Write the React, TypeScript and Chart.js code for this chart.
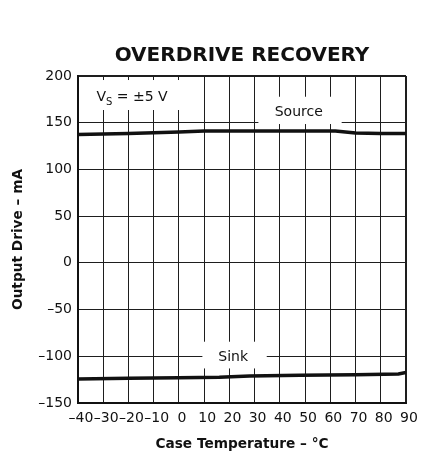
import React, { useEffect, useRef } from 'react';
import { Chart, registerables } from 'chart.js';

Chart.register(...registerables);

// ---- data ----
const sourceTemps = [-40, -20, 0, 10, 30, 50, 62, 70, 80, 90];
const sourceDrive = [137.5, 138.5, 140, 141, 141, 141, 141, 139, 138.5, 138.5];
const sinkTemps = [-40, -20, 0, 16, 28, 48, 70, 87, 90];
const sinkDrive = [-124.3, -123.5, -123, -122.5, -121.2, -120.4, -119.8, -119, -117.2];

const xTickValues = [-40, -30, -20, -10, 0, 10, 20, 30, 40, 50, 60, 70, 80, 90];
const xTickLabels = ['–40', '–30', '–20', '–10', '0', '10', '20', '30', '40', '50', '60', '70', '80', '90'];
const yTickValues = [-150, -100, -50, 0, 50, 100, 150, 200];
const yTickLabels = ['–150', '–100', '–50', '0', '50', '100', '150', '200'];

const titleText = 'OVERDRIVE RECOVERY';
const xTitle = 'Case Temperature – °C';
const yTitle = 'Output Drive – mA';

// label boxes (data coordinates) that mask the grid
const maskBoxes = [
  { x0: -39.4, x1: 8.4, y0: 163.6, y1: 195.7 },
  { x0: 31.5, x1: 64.5, y0: 148.6, y1: 177.8 },
  { x0: 9.3, x1: 34.8, y0: -113, y1: -84.4 },
];
const curveLabels = [
  { text: 'Source', x: 47.5, y: 157.2 },
  { text: 'Sink', x: 21.5, y: -105.1 },
];
const supplyLabel = { x: -32.7, y: 173.2 };

const FONT = '"DejaVu Sans", sans-serif';
const INK = '#111';
const GRID = '#1e1e1e';

const labelPlugin = {
  id: 'plotLabels',
  beforeDatasetsDraw(chart: any) {
    const { ctx, scales } = chart;
    const xs = scales.x;
    const ys = scales.y;
    ctx.save();
    ctx.fillStyle = '#fff';
    for (const b of maskBoxes) {
      const l = xs.getPixelForValue(b.x0);
      const r = xs.getPixelForValue(b.x1);
      const t = ys.getPixelForValue(b.y1);
      const bt = ys.getPixelForValue(b.y0);
      ctx.fillRect(l, t, r - l, bt - t);
    }
    ctx.fillStyle = INK;
    ctx.textBaseline = 'alphabetic';
    ctx.font = `14px ${FONT}`;
    ctx.textAlign = 'center';
    for (const c of curveLabels) {
      ctx.fillText(c.text, xs.getPixelForValue(c.x), ys.getPixelForValue(c.y));
    }
    // V_S = ±5 V
    ctx.textAlign = 'left';
    let px = xs.getPixelForValue(supplyLabel.x);
    const py = ys.getPixelForValue(supplyLabel.y);
    ctx.font = `14px ${FONT}`;
    ctx.fillText('V', px, py);
    px += ctx.measureText('V').width;
    ctx.font = `10px ${FONT}`;
    ctx.fillText('S', px, py + 3.5);
    px += ctx.measureText('S').width;
    ctx.font = `14px ${FONT}`;
    ctx.fillText(' = ±5 V', px, py);
    ctx.restore();
  },
};

export default function App() {
  const canvasRef = useRef<HTMLCanvasElement | null>(null);

  useEffect(() => {
    const canvas = canvasRef.current;
    if (!canvas) return;
    const chart = new Chart(canvas, {
      type: 'line',
      data: {
        datasets: [
          {
            label: 'Source',
            data: sourceTemps.map((t, i) => ({ x: t, y: sourceDrive[i] })),
            borderColor: INK,
            borderWidth: 3.5,
            pointRadius: 0,
            tension: 0,
            fill: false,
          },
          {
            label: 'Sink',
            data: sinkTemps.map((t, i) => ({ x: t, y: sinkDrive[i] })),
            borderColor: INK,
            borderWidth: 3.5,
            pointRadius: 0,
            tension: 0,
            fill: false,
          },
        ],
      },
      options: {
        animation: false,
        responsive: true,
        maintainAspectRatio: false,
        events: [],
        layout: { padding: { left: 0, right: 16, top: 0, bottom: 0 } },
        plugins: {
          legend: { display: false },
          tooltip: { enabled: false },
          title: {
            display: true,
            fullSize: false,
            text: titleText,
            color: INK,
            font: { family: FONT, size: 20, weight: 'bold' },
            padding: { top: 44, bottom: 8 },
          },
        },
        scales: {
          x: {
            type: 'linear',
            min: -40,
            max: 90,
            afterBuildTicks: (s: any) => {
              s.ticks = xTickValues.map((v) => ({ value: v }));
            },
            afterFit: (s: any) => {
              s.height = 56;
            },
            ticks: {
              autoSkip: false,
              maxRotation: 0,
              minRotation: 0,
              padding: 7,
              labelOffset: 3,
              color: INK,
              font: { family: FONT, size: 14 },
              callback: (v: any) => xTickLabels[xTickValues.indexOf(Number(v))],
            },
            grid: {
              color: GRID,
              lineWidth: (c: any) => (c.tick && c.tick.value === 90 ? 2 : 1),
              drawTicks: false,
            },
            border: { color: INK, width: 2 },
            title: {
              display: true,
              text: xTitle,
              color: INK,
              font: { family: FONT, size: 13.7, weight: 'bold' },
              padding: { top: 0, bottom: 6 },
            },
          },
          y: {
            type: 'linear',
            min: -150,
            max: 200,
            afterBuildTicks: (s: any) => {
              s.ticks = yTickValues.map((v) => ({ value: v }));
            },
            afterFit: (s: any) => {
              s.width = 78;
            },
            ticks: {
              padding: 6,
              color: INK,
              font: { family: FONT, size: 14 },
              callback: (v: any) => yTickLabels[yTickValues.indexOf(Number(v))],
            },
            grid: {
              color: GRID,
              lineWidth: (c: any) => (c.tick && c.tick.value === 200 ? 2 : 1),
              drawTicks: false,
            },
            border: { color: INK, width: 2 },
            title: {
              display: true,
              text: yTitle,
              color: INK,
              font: { family: FONT, size: 13.7, weight: 'bold' },
              padding: { top: 10, bottom: 0 },
            },
          },
        },
      },
      plugins: [labelPlugin],
    });
    return () => chart.destroy();
  }, []);

  return (
    <div
      style={{
        position: 'fixed',
        left: 0,
        top: 0,
        width: 422,
        height: 459,
        background: '#fff',
      }}
    >
      <canvas ref={canvasRef} />
    </div>
  );
}
